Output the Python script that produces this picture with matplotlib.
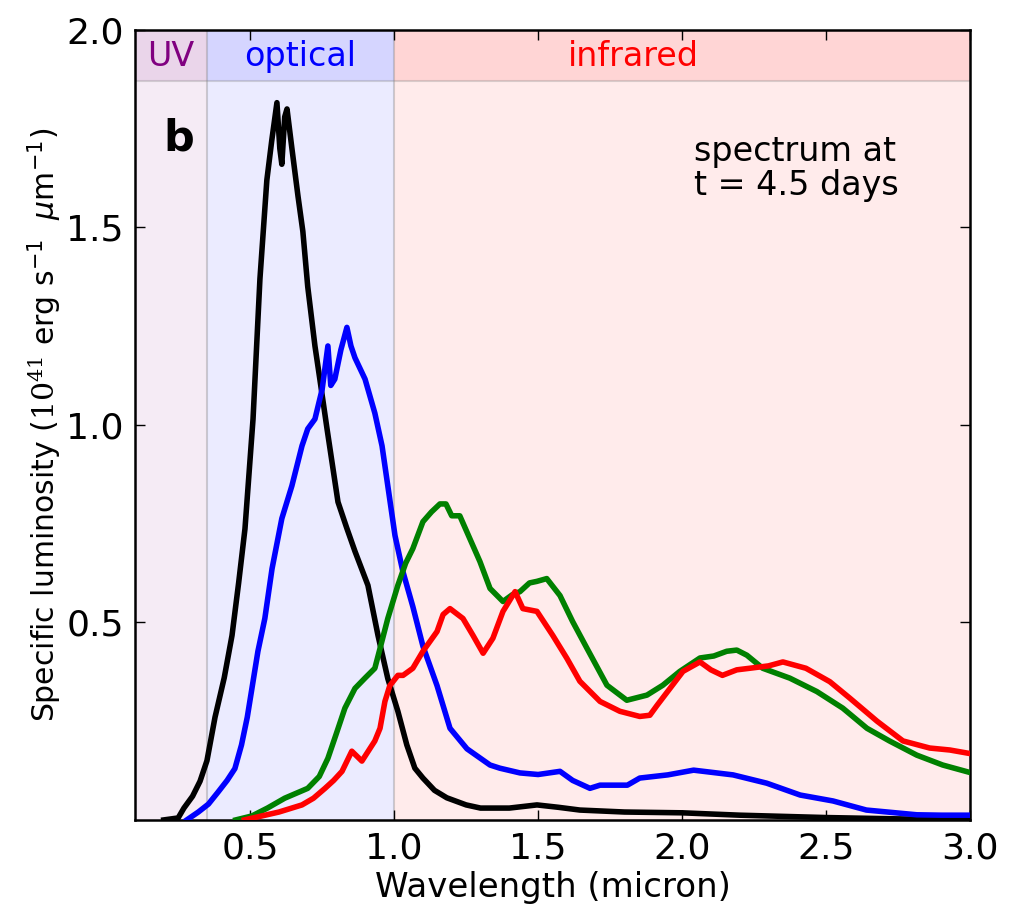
import numpy as np
import matplotlib
matplotlib.use('Agg')
import matplotlib.pyplot as plt

# Spektrum okumalari (mikron, 1e41 erg/s/um)
black_wl = [0.20, 0.25, 0.27, 0.30, 0.326, 0.35, 0.378, 0.41, 0.437, 0.46, 0.482, 0.51,
            0.534, 0.558, 0.575, 0.593, 0.603, 0.61, 0.62, 0.628, 0.645, 0.666, 0.683,
            0.70, 0.725, 0.742, 0.767, 0.805, 0.835, 0.864, 0.909, 0.944, 0.978, 1.013,
            1.044, 1.072, 1.10, 1.14, 1.183, 1.25, 1.30, 1.40, 1.496, 1.57, 1.645, 1.80,
            2.0, 2.2, 2.5, 2.8, 3.0]
black_lum = [0.0, 0.005, 0.03, 0.06, 0.098, 0.15, 0.26, 0.36, 0.467, 0.60, 0.737, 1.015,
             1.37, 1.62, 1.72, 1.816, 1.70, 1.66, 1.78, 1.80, 1.70, 1.58, 1.49,
             1.35, 1.20, 1.116, 0.99, 0.805, 0.74, 0.68, 0.594, 0.467, 0.358, 0.275,
             0.19, 0.131, 0.106, 0.075, 0.056, 0.038, 0.03, 0.03, 0.038, 0.032, 0.025, 0.02,
             0.018, 0.012, 0.006, 0.002, 0.0]

blue_wl = [0.28, 0.32, 0.355, 0.388, 0.42, 0.447, 0.47, 0.49, 0.527, 0.551, 0.576, 0.61,
           0.645, 0.68, 0.70, 0.725, 0.75, 0.77, 0.78, 0.794, 0.815, 0.836, 0.85, 0.864,
           0.899, 0.933, 0.958, 0.978, 1.003, 1.03, 1.065, 1.10, 1.149, 1.194, 1.253,
           1.333, 1.367, 1.437, 1.50, 1.576, 1.62, 1.68, 1.715, 1.81, 1.853, 1.95, 2.04,
           2.177, 2.294, 2.41, 2.524, 2.64, 2.815, 2.90, 3.0]
blue_lum = [0.0, 0.02, 0.04, 0.07, 0.10, 0.13, 0.19, 0.26, 0.427, 0.51, 0.636, 0.763,
            0.846, 0.947, 0.99, 1.015, 1.09, 1.20, 1.10, 1.116, 1.19, 1.247, 1.20, 1.17,
            1.116, 1.03, 0.947, 0.846, 0.72, 0.63, 0.54, 0.44, 0.34, 0.232, 0.18,
            0.139, 0.131, 0.119, 0.115, 0.123, 0.10, 0.08, 0.088, 0.088, 0.106, 0.114, 0.126,
            0.114, 0.093, 0.063, 0.048, 0.025, 0.013, 0.012, 0.012]

green_wl = [0.45, 0.506, 0.56, 0.62, 0.70, 0.74, 0.77, 0.80, 0.829, 0.864, 0.90, 0.933,
            0.951, 0.978, 1.013, 1.04, 1.065, 1.10, 1.13, 1.159, 1.18, 1.20, 1.228, 1.263,
            1.298, 1.333, 1.378, 1.41, 1.437, 1.47, 1.496, 1.53, 1.576, 1.62, 1.67, 1.739,
            1.808, 1.878, 1.933, 1.992, 2.062, 2.11, 2.155, 2.19, 2.225, 2.28, 2.374, 2.468,
            2.558, 2.642, 2.72, 2.815, 2.905, 3.0]
green_lum = [0.0, 0.01, 0.03, 0.055, 0.08, 0.11, 0.156, 0.22, 0.283, 0.333, 0.36, 0.384,
             0.434, 0.51, 0.594, 0.65, 0.687, 0.755, 0.78, 0.80, 0.80, 0.77, 0.77, 0.712,
             0.654, 0.586, 0.553, 0.57, 0.578, 0.60, 0.604, 0.611, 0.568, 0.502, 0.434, 0.341,
             0.303, 0.316, 0.341, 0.376, 0.41, 0.415, 0.427, 0.43, 0.417, 0.384, 0.359, 0.325,
             0.283, 0.232, 0.20, 0.164, 0.139, 0.12]

red_wl = [0.48, 0.54, 0.60, 0.68, 0.72, 0.76, 0.79, 0.819, 0.853, 0.888, 0.933, 0.951,
          0.968, 0.985, 1.013, 1.031, 1.065, 1.10, 1.149, 1.17, 1.194, 1.239, 1.274, 1.309,
          1.343, 1.378, 1.42, 1.447, 1.496, 1.551, 1.60, 1.645, 1.715, 1.784, 1.853, 1.888,
          1.913, 1.958, 2.003, 2.062, 2.10, 2.14, 2.19, 2.235, 2.30, 2.35, 2.43, 2.513,
          2.583, 2.677, 2.767, 2.86, 2.93, 3.0]
red_lum = [0.0, 0.01, 0.02, 0.038, 0.055, 0.08, 0.10, 0.123, 0.174, 0.149, 0.20, 0.232,
           0.30, 0.34, 0.366, 0.366, 0.384, 0.427, 0.477, 0.52, 0.535, 0.51, 0.467, 0.422,
           0.46, 0.528, 0.578, 0.535, 0.528, 0.467, 0.409, 0.351, 0.30, 0.275, 0.262, 0.265,
           0.29, 0.333, 0.376, 0.40, 0.38, 0.366, 0.38, 0.384, 0.39, 0.40, 0.384, 0.35,
           0.308, 0.25, 0.20, 0.182, 0.177, 0.168]

# Bant sinirlari ve etiketleri
band_edges = [(0.1, 0.35), (0.35, 1.0), (1.0, 3.0)]
band_names = ['UV', 'optical', 'infrared']
band_colors = ['purple', 'blue', 'red']
band_label_x = [0.225, 0.675, 1.83]

plt.rcParams['mathtext.fontset'] = 'custom'
plt.rcParams['mathtext.rm'] = 'DejaVu Serif'
plt.rcParams['mathtext.sf'] = 'DejaVu Sans'
plt.rcParams['mathtext.it'] = 'DejaVu Sans:italic'

fig = plt.figure(figsize=(10.11, 9.08), dpi=100)
ax = fig.add_axes([0.1335, 0.097, 0.826, 0.870])

for (x0, x1), c in zip(band_edges, band_colors):
    ax.axvspan(x0, x1, color=c, alpha=0.08, lw=0, zorder=0)
    ax.fill_between([x0, x1], 1.87, 2.0, color=c, alpha=0.09, lw=0, zorder=0)
for xb in [0.35, 1.0]:
    ax.axvline(xb, color='gray', alpha=0.35, lw=1.5, zorder=1)
ax.axhline(1.87, color='gray', alpha=0.3, lw=1.5, zorder=1)

for name, c, xt in zip(band_names, band_colors, band_label_x):
    ax.text(xt, 1.932, name, color=c, fontsize=24, ha='center', va='center')

ax.plot(black_wl, black_lum, color='black', lw=4, zorder=3)
ax.plot(blue_wl, blue_lum, color='blue', lw=4, zorder=3)
ax.plot(green_wl, green_lum, color='green', lw=4, zorder=3)
ax.plot(red_wl, red_lum, color='red', lw=4, zorder=3)

ax.text(0.2, 1.695, 'b', fontsize=31, fontweight='bold', ha='left', va='baseline')
ax.text(2.04, 1.735, 'spectrum at\nt = 4.5 days', fontsize=24, ha='left', va='top',
        linespacing=1.05)

ax.set_xlim(0.1, 3.0)
ax.set_ylim(0, 2.0)
ax.set_xticks([0.5, 1.0, 1.5, 2.0, 2.5, 3.0])
ax.set_yticks([0.5, 1.0, 1.5, 2.0])
ax.tick_params(direction='in', top=True, right=True, length=7, width=1, labelsize=26, pad=8)
for s in ax.spines.values():
    s.set_linewidth(1.8)

ax.set_xlabel('Wavelength (micron)', fontsize=24.5, labelpad=4)
ax.set_ylabel(r'Specific luminosity ($10^{41}$ erg s$^{\mathsf{-1}}$  $\mu$m$^{\mathsf{-1}}$)',
              fontsize=21.5, labelpad=2)

fig.savefig('out.png', dpi=100)
